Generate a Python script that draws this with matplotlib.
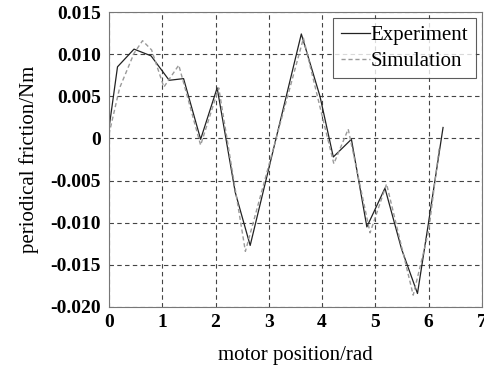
import matplotlib.pyplot as plt
import numpy as np

# periodic friction vs motor position
exp_x = [0.0, 0.16, 0.47, 0.79, 1.13, 1.40, 1.72, 2.03, 2.37, 2.65, 3.61, 3.96, 4.21, 4.55, 4.84, 5.18, 5.49, 5.79, 5.99, 6.27]
exp_y = [0.0012, 0.0085, 0.0106, 0.0098, 0.0069, 0.0071, -0.0001, 0.0060, -0.0064, -0.0127, 0.0124, 0.0050, -0.0022, -0.0001, -0.0105, -0.0059, -0.0131, -0.0184, -0.0103, 0.0013]

sim_x = [0.0, 0.20, 0.47, 0.63, 0.80, 1.03, 1.31, 1.72, 2.06, 2.56, 3.65, 3.95, 4.22, 4.49, 4.90, 5.21, 5.71, 6.00, 6.20]
sim_y = [0.0005, 0.0060, 0.0101, 0.0116, 0.0105, 0.0061, 0.0087, -0.0008, 0.0060, -0.0134, 0.0119, 0.0040, -0.0030, 0.0011, -0.0112, -0.0054, -0.0186, -0.0110, -0.0010]

plt.rcParams["font.family"] = ["Liberation Serif", "DejaVu Serif"]

fig = plt.figure(figsize=(4.85, 3.65), dpi=100)
ax = fig.add_axes([0.2247, 0.159, 0.769, 0.808])

ax.plot(exp_x, exp_y, color='#222222', lw=0.9, label='Experiment')
ax.plot(sim_x, sim_y, color='#9a9a9a', lw=1.0, ls=(0, (3, 2)), label='Simulation')

ax.set_xlim(0, 7)
ax.set_ylim(-0.020, 0.015)
ax.set_xticks(np.arange(0, 8, 1))
ax.set_yticks([-0.020, -0.015, -0.010, -0.005, 0, 0.005, 0.010, 0.015])
ax.set_yticklabels(['-0.020', '-0.015', '-0.010', '-0.005', '0', '0.005', '0.010', '0.015'])
ax.tick_params(labelsize=14, length=0)
ax.tick_params(axis='y', pad=6)
ax.tick_params(axis='x', pad=5)
for t in ax.get_xticklabels() + ax.get_yticklabels():
	t.set_fontweight('bold')

ax.grid(True, color='#444444', ls=(0, (4, 3)), lw=0.8)
for s in ax.spines.values():
	s.set_color('#777777')
	s.set_linewidth(0.8)

ax.set_xlabel('motor position/rad', fontsize=15, labelpad=11)
ax.set_ylabel('periodical friction/Nm', fontsize=15, labelpad=8)

leg = ax.legend(loc='upper right', fontsize=15, frameon=True, fancybox=False,
	handlelength=1.4, handletextpad=0.05, borderpad=0.35, labelspacing=0.3,
	borderaxespad=0.3)
leg.get_frame().set_edgecolor('#333333')
leg.get_frame().set_linewidth(0.8)

plt.savefig('out.png', dpi=100)
